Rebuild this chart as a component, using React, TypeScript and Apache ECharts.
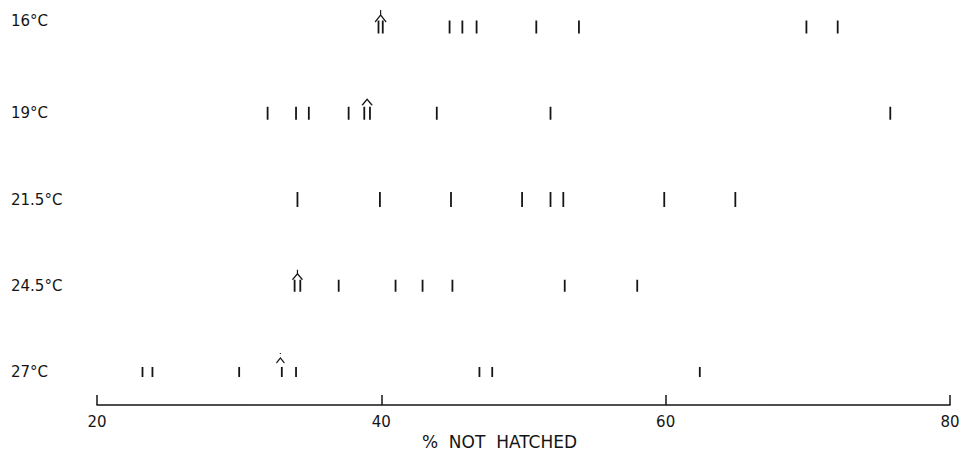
import React, { useEffect, useRef } from "react";
import * as echarts from "echarts";

const categories = ["16°C", "19°C", "21.5°C", "24.5°C", "27°C"];
const obs16 = [39.8, 40.1, 44.8, 45.7, 46.7, 50.9, 53.9, 69.9, 72.1];
const obs19 = [32.0, 34.0, 34.9, 37.7, 38.8, 39.2, 43.9, 51.9, 75.8];
const obs215 = [34.1, 39.9, 44.9, 49.9, 51.9, 52.8, 59.9, 64.9];
const obs245 = [33.9, 34.3, 37.0, 41.0, 42.9, 45.0, 52.9, 58.0];
const obs27 = [23.2, 23.9, 30.0, 33.0, 34.0, 46.9, 47.8, 62.4];
const observations = [obs16, obs19, obs215, obs245, obs27];
// mean markers (caret) per row; null = none
const meanValues: (number | null)[] = [39.95, 39.0, null, 34.1, 32.9];
const xTicks = [20, 40, 60, 80];

const INK = "#151515";
const FONT = "DejaVu Sans";
const tickHeights = [13, 13, 15, 12, 10];
const caretShapes = [
  { symbol: "path://M0,12 L6,5 L12,12 M6,5 L6,0", size: [11, 12], offset: [0, -11] },
  { symbol: "path://M0,6 L5,0 L10,6", size: [10, 6], offset: [0, -11] },
  null,
  { symbol: "path://M0,10 L5,4 L10,10 M5,4 L5,0", size: [10, 10], offset: [0, -11] },
  { symbol: "path://M0,10 L4,5 L8,10 M4,0 L4,1", size: [8, 10], offset: [0, -14] },
];

export default function App() {
  const ref = useRef<HTMLDivElement>(null);
  useEffect(() => {
    document.body.style.margin = "0";
    const chart = echarts.init(ref.current!, null, { renderer: "svg" });
    const tickData = observations.flatMap((vals, i) =>
      vals.map((v) => ({
        value: [v, categories[i]],
        symbolSize: [1.8, tickHeights[i]],
      }))
    );
    const caretData: any[] = [];
    meanValues.forEach((m, i) => {
      const s = caretShapes[i];
      if (m == null || !s) return;
      caretData.push({
        value: [m, categories[i]],
        symbol: s.symbol,
        symbolSize: s.size,
        symbolOffset: s.offset,
      });
    });
    chart.setOption({
      animation: false,
      backgroundColor: "#ffffff",
      grid: { left: 97, right: 13, top: 27, bottom: 87, containLabel: false },
      xAxis: {
        type: "value",
        min: xTicks[0],
        max: xTicks[xTicks.length - 1],
        interval: xTicks[1] - xTicks[0],
        position: "bottom",
        offset: 33,
        axisLine: { show: true, lineStyle: { color: INK, width: 1.5 } },
        axisTick: { show: true, inside: true, length: 10, lineStyle: { color: INK, width: 1.5 } },
        splitLine: { show: false },
        axisLabel: { color: INK, fontSize: 15, margin: 9, fontFamily: FONT },
        name: "%  NOT  HATCHED",
        nameLocation: "middle",
        nameGap: 26,
        nameTextStyle: {
          color: INK,
          fontSize: 17,
          fontFamily: FONT,
          padding: [0, 48, 0, 0],
        },
      },
      yAxis: {
        type: "category",
        data: categories,
        inverse: true,
        boundaryGap: false,
        axisLine: { show: false },
        axisTick: { show: false },
        splitLine: { show: false },
        axisLabel: {
          align: "left",
          margin: 86,
          color: INK,
          fontSize: 15,
          fontFamily: FONT,
          formatter: (v: string) => (v === categories[0] ? "{hi|" + v + "}" : v),
          rich: { hi: { color: INK, fontSize: 15, fontFamily: FONT, padding: [0, 0, 12, 0] } },
        },
      },
      series: [
        {
          type: "scatter",
          silent: true,
          symbol: "rect",
          data: tickData,
          itemStyle: { color: INK, opacity: 1 },
          emphasis: { disabled: true },
        },
        {
          type: "scatter",
          silent: true,
          data: caretData,
          itemStyle: { color: "rgba(0,0,0,0)", borderColor: INK, borderWidth: 1.2, opacity: 1 },
          emphasis: { disabled: true },
        },
      ],
    });
    return () => chart.dispose();
  }, []);
  return <div ref={ref} style={{ width: 963, height: 459 }} />;
}
